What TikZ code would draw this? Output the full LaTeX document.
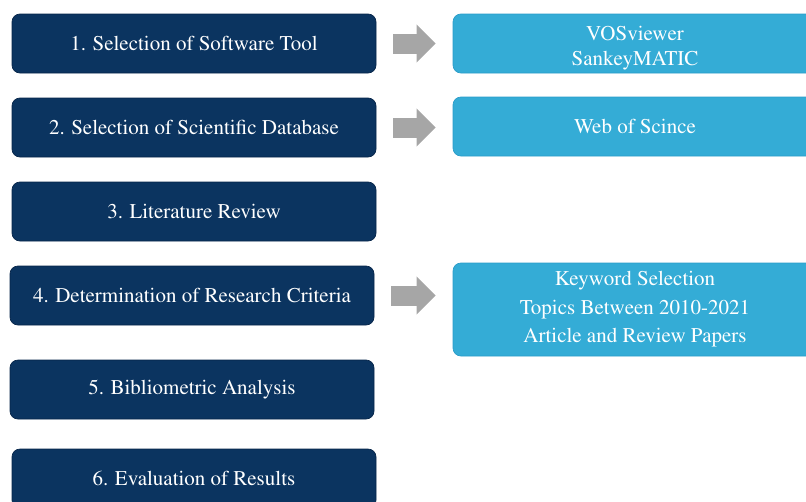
\documentclass[tikz,border=0pt]{standalone}
\usepackage[T1]{fontenc}
\usepackage{times}
\usetikzlibrary{arrows.meta}
\definecolor{navy}{HTML}{0B3460}
\definecolor{navyedge}{HTML}{062549}
\definecolor{sky}{HTML}{34ACD6}
\definecolor{skyedge}{HTML}{2B9CC8}
\definecolor{arrowgray}{HTML}{A6A6A6}

\begin{document}
\begin{tikzpicture}[x=1pt,y=-1pt,
  stepbox/.style={draw=navyedge,fill=navy,line width=0.7pt,rounded corners=8pt,
    minimum width=364pt,minimum height=59pt,text=white,
    font=\rmfamily\fontsize{21}{24}\selectfont},
  infobox/.style={draw=skyedge,fill=sky,line width=0.7pt,rounded corners=8pt,
    minimum width=364pt,minimum height=59pt,text=white,align=center},
  blockarrow/.style={draw=arrowgray,line width=20pt,
    -{Triangle[length=19pt,width=37pt]}}]
  \clip (0,0) rectangle (806,501);
  \useasboundingbox (0,0) rectangle (806,501);

  % the six steps
  \foreach \n/\x/\y/\t in {1/194/43.5/Selection of Software Tool,
      2/194/127.5/Selection of Scientific Database,
      3/194/211.5/Literature Review,
      4/192/295.5/Determination of Research Criteria,
      5/192/389.5/Bibliometric Analysis,
      6/194/478.5/Evaluation of Results}
    \node[stepbox] (s\n) at (\x,\y) {\n. \t};

  % what each step uses
  \node[infobox,font=\rmfamily\fontsize{21}{25}\selectfont] (r1) at (635,43.5)
    {\raisebox{-4pt}[\height][\depth]{\begin{tabular}{@{}c@{}}VOSviewer\\SankeyMATIC\end{tabular}}};
  \node[infobox,font=\rmfamily\fontsize{21}{24}\selectfont] (r2) at (635,126.5) {Web of Scince};
  \node[infobox,minimum height=93pt,font=\rmfamily\fontsize{21}{28.5}\selectfont] (r3) at (635,309.5)
    {Keyword Selection\\Topics Between 2010-2021\\Article and Review Papers};

  % arrows
  \foreach \s/\r in {s1/r1,s2/r2,s4/r3}
    \draw[blockarrow] ([xshift=17pt]\s.east) -- ([xshift=-17pt]\r.west |- \s.east);
\end{tikzpicture}
\end{document}
